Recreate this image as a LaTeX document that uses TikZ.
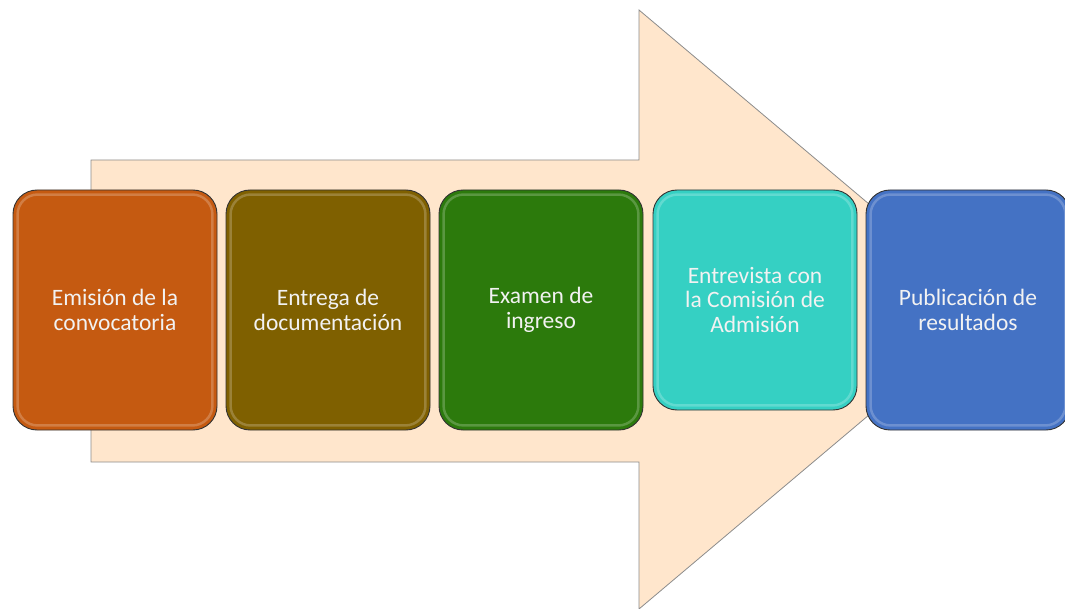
\documentclass[tikz,border=0pt]{standalone}
\usepackage{fontspec}
\setmainfont{Carlito}
\usepackage{tikz}
\usetikzlibrary{calc}
\definecolor{arrowfill}{HTML}{FFE6CC}
\definecolor{stepone}{HTML}{C55A11}
\definecolor{steptwo}{HTML}{7F6000}
\definecolor{stepthree}{HTML}{2C7A0C}
\definecolor{stepfour}{HTML}{35D0C3}
\definecolor{stepfive}{HTML}{4472C4}
\tikzset{
   arrowbody/.style={fill=arrowfill, draw=black!45, line width=0.8pt},
   stepbox/.style={draw=black!80, line width=0.9pt, rounded corners=24pt,
      minimum width=204pt, minimum height=240pt, inner sep=0pt,
      text width=196pt, align=flush center, text=white!95!black,
      font=\fontsize{23.5}{24.5}\selectfont},
   shine/.style={draw=white, opacity=0.22, line width=2.5pt, rounded corners=20pt},
    }
\begin{document}
\begin{tikzpicture}[x=1pt, y=-1pt]
            \useasboundingbox (0,0) rectangle (1065,609);
            % big arrow behind the steps
            \draw[arrowbody] (91,160) -- (639,160) -- (639,10) -- (994,309.5)
               -- (639,609) -- (639,462) -- (91,462) -- cycle;
            % the five steps
            \node[stepbox, fill=stepone] (emision) at (115,310) {Emisión de la\\convocatoria};
            \node[stepbox, fill=steptwo] (entrega) at (328,310) {Entrega de\\documentación};
            \node[stepbox, fill=stepthree] (examen) at (541,310) {Examen de\\ingreso};
            \node[stepbox, fill=stepfour, minimum height=220pt] (entrevista) at (755,300) {Entrevista con\\la Comisión de\\Admisión};
            \node[stepbox, fill=stepfive] (publicacion) at (968,310) {Publicación de\\resultados};
            % glossy edge
            \foreach \s in {emision, entrega, examen, entrevista, publicacion}
               \draw[shine] ($(\s.north west)+(5,5)$) rectangle ($(\s.south east)+(-5,-5)$);
        \end{tikzpicture}
\end{document}
